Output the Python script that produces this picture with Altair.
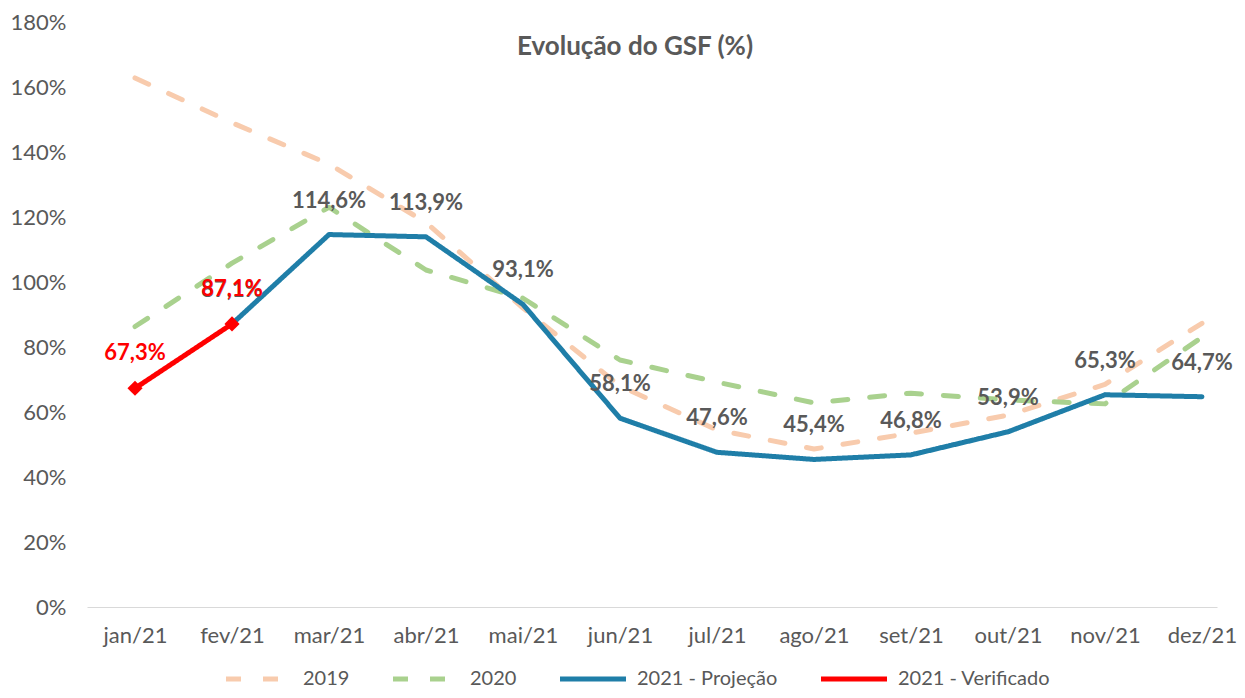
import altair as alt
import pandas as pd

months = ["jan/21", "fev/21", "mar/21", "abr/21", "mai/21", "jun/21",
          "jul/21", "ago/21", "set/21", "out/21", "nov/21", "dez/21"]
gsf_2019 = [162.8, 149.0, 136.3, 118.3, 92.0, 68.0, 54.5, 48.6, 53.5, 59.0, 68.5, 87.3]
gsf_2020 = [86.3, 105.8, 123.0, 103.7, 95.0, 76.0, 69.2, 62.8, 65.8, 63.7, 62.5, 83.0]
gsf_2021_proj = [None, 87.1, 114.6, 113.9, 93.1, 58.1, 47.6, 45.4, 46.8, 53.9, 65.3, 64.7]
gsf_2021_verif = [67.3, 87.1, None, None, None, None, None, None, None, None, None, None]
series_names = ["2019", "2020", "2021 - Projeção", "2021 - Verificado"]
series_colors = ["#F8CBAD", "#A9D18E", "#1F7EA8", "#FF0000"]
y_ticks = [0, 20, 40, 60, 80, 100, 120, 140, 160, 180]
title_text = "Evolução do GSF (%)"

rows = []
for name, vals in zip(series_names, [gsf_2019, gsf_2020, gsf_2021_proj, gsf_2021_verif]):
    for i, v in enumerate(vals):
        if v is not None:
            rows.append({"series": name, "idx": i, "value": v})
df = pd.DataFrame(rows)

FONT = "Lato"
GRAY = "#595959"
months_expr = "[" + ",".join(f"'{m}'" for m in months) + "][datum.value]"

x_enc = alt.X("idx:Q",
              scale=alt.Scale(domain=[-0.495, 11.155], nice=False, zero=False),
              axis=alt.Axis(values=list(range(12)), labelExpr=months_expr, title=None,
                            grid=False, ticks=False, domainColor="#D9D9D9", domainWidth=1,
                            labelFont=FONT, labelFontSize=22, labelColor=GRAY,
                            labelPadding=18))
y_enc = alt.Y("value:Q",
              scale=alt.Scale(domain=[0, 180], nice=False),
              axis=alt.Axis(values=y_ticks, labelExpr="datum.value + '%'", title=None,
                            grid=False, ticks=False, domain=False,
                            labelFont=FONT, labelFontSize=22, labelColor=GRAY,
                            labelPadding=21))

# long horizontal line symbol: unit path scaled by sqrt(size)/2
legend = alt.Legend(orient="none", legendX=162, legendY=647, direction="horizontal",
                    title=None, symbolType="M-6,0L6,0", symbolSize=121, symbolStrokeWidth=5,
                    labelFont=FONT, labelFontSize=20, labelColor=GRAY, labelOffset=34,
                    columnPadding=33, padding=0)

base = alt.Chart(df)

lines = base.mark_line(strokeWidth=5, strokeCap="round", strokeJoin="round").encode(
    x=x_enc, y=y_enc,
    color=alt.Color("series:N", scale=alt.Scale(domain=series_names, range=series_colors),
                    legend=legend),
    strokeDash=alt.StrokeDash("series:N",
                              scale=alt.Scale(domain=series_names,
                                              range=[[15, 22], [15, 22], [1, 0], [1, 0]]),
                              legend=legend),
    strokeWidth=alt.StrokeWidth("series:N",
                                scale=alt.Scale(domain=series_names, range=[5, 5, 5, 6]),
                                legend=None),
    detail="series:N",
    order="idx:Q",
)

points = base.transform_filter(alt.datum.series == "2021 - Verificado").mark_point(
    shape="diamond", filled=True, size=230, color="#FF0000", opacity=1).encode(
    x=x_enc, y=y_enc)

label_calc = "replace(format(datum.value, '.1f'), '.', ',') + '%'"

proj_labels = base.transform_filter(alt.datum.series == "2021 - Projeção").transform_calculate(
    label=label_calc).mark_text(font=FONT, fontSize=22, fontWeight="bold", color=GRAY,
                                dy=-34, baseline="middle").encode(
    x=x_enc, y=y_enc, text="label:N")

verif_labels = base.transform_filter(alt.datum.series == "2021 - Verificado").transform_calculate(
    label=label_calc).mark_text(font=FONT, fontSize=22, fontWeight="bold", color="#FF0000",
                                dy=-35, baseline="middle").encode(
    x=x_enc, y=y_enc, text="label:N")

title = alt.Chart(pd.DataFrame({"t": [title_text]})).mark_text(
    font=FONT, fontSize=26, fontWeight="bold", color=GRAY, baseline="middle").encode(
    x=alt.value(548), y=alt.value(25), text="t:N")

chart = alt.layer(lines, points, proj_labels, verif_labels, title).properties(
    width=1130, height=585,
    padding={"top": 3, "left": 2, "right": 0, "bottom": 0},
).configure_view(stroke=None)

chart.save("out.html", embed_options={"renderer": "svg", "actions": False})
